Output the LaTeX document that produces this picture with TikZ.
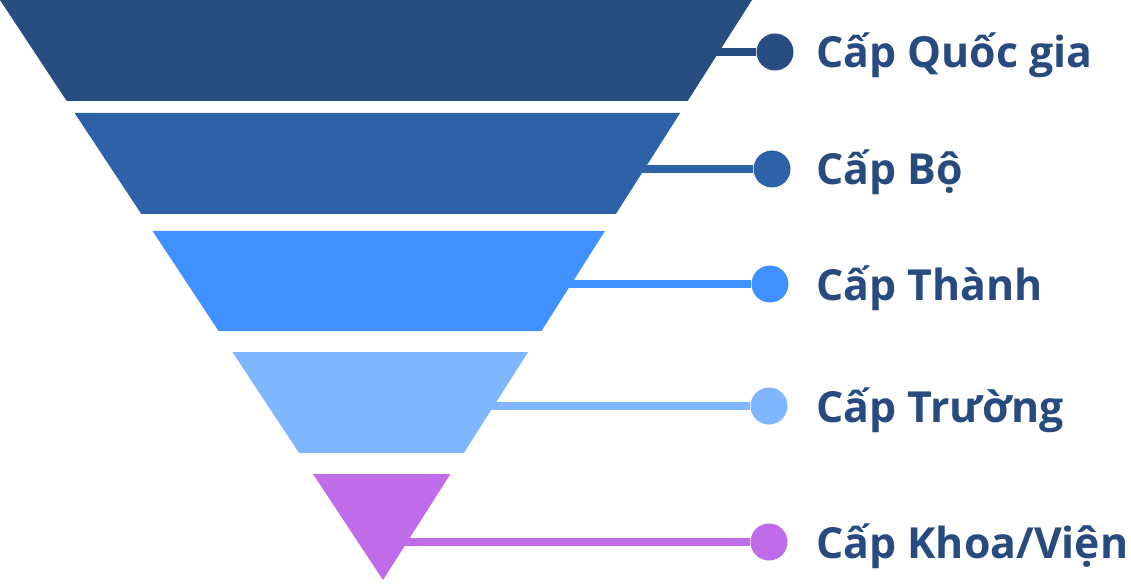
\documentclass[tikz,border=0pt]{standalone}
\usepackage{fontspec}
\setmainfont{Open Sans}
\usetikzlibrary{positioning}
\definecolor{lvlA}{HTML}{284D80}
\definecolor{lvlB}{HTML}{2E62A8}
\definecolor{lvlC}{HTML}{4090FF}
\definecolor{lvlD}{HTML}{80B5FF}
\definecolor{lvlE}{HTML}{C06CEA}
\definecolor{txtblue}{HTML}{274B7F}

\begin{document}
\begin{tikzpicture}
[x=1pt,y=-1pt,
 dot/.style={circle,fill=#1,minimum size=37pt,inner sep=0pt},
 lead/.style={draw=#1,line width=7.5pt},
 lbl/.style={anchor=base west,inner sep=0pt,text=txtblue,font=\fontsize{42.8}{50}\selectfont\bfseries}]
\useasboundingbox (0,0) rectangle (1131,585);
\fill[lvlA] (0,0) -- (752,0) -- (687.7,101) -- (66.7,101) -- cycle;
\fill[lvlB] (74.6,113) -- (680.1,113) -- (615.9,214) -- (141.3,214) -- cycle;
\fill[lvlC] (152.5,231) -- (605,231) -- (541.4,331) -- (218.6,331) -- cycle;
\fill[lvlD] (232.4,352) -- (528.1,352) -- (463.8,453) -- (299.1,453) -- cycle;
\fill[lvlE] (313,474) -- (450.4,474) -- (383,580) -- cycle;
\coordinate (qg-e) at (712,52);
\coordinate (bo-e) at (638,169);
\coordinate (th-e) at (565,284);
\coordinate (tr-e) at (488,406);
\coordinate (kv-e) at (400,542);
\node[dot=lvlA] (qg) at (775,52) {};
\node[dot=lvlB] (bo) at (772,169) {};
\node[dot=lvlC] (th) at (770,284) {};
\node[dot=lvlD] (tr) at (769,406) {};
\node[dot=lvlE] (kv) at (769,542) {};
\draw[lead=lvlA] (qg-e) -- (qg);
\draw[lead=lvlB] (bo-e) -- (bo);
\draw[lead=lvlC] (th-e) -- (th);
\draw[lead=lvlD] (tr-e) -- (tr);
\draw[lead=lvlE] (kv-e) -- (kv);
\node[lbl] (qg-t) at (816,68) {Cấp Quốc gia};
\node[lbl] (bo-t) at (816,185) {Cấp Bộ};
\node[lbl] (th-t) at (816,300) {Cấp Thành};
\node[lbl] (tr-t) at (816,422) {Cấp Trường};
\node[lbl] (kv-t) at (816,558) {Cấp Khoa/Viện};
\end{tikzpicture}
\end{document}
